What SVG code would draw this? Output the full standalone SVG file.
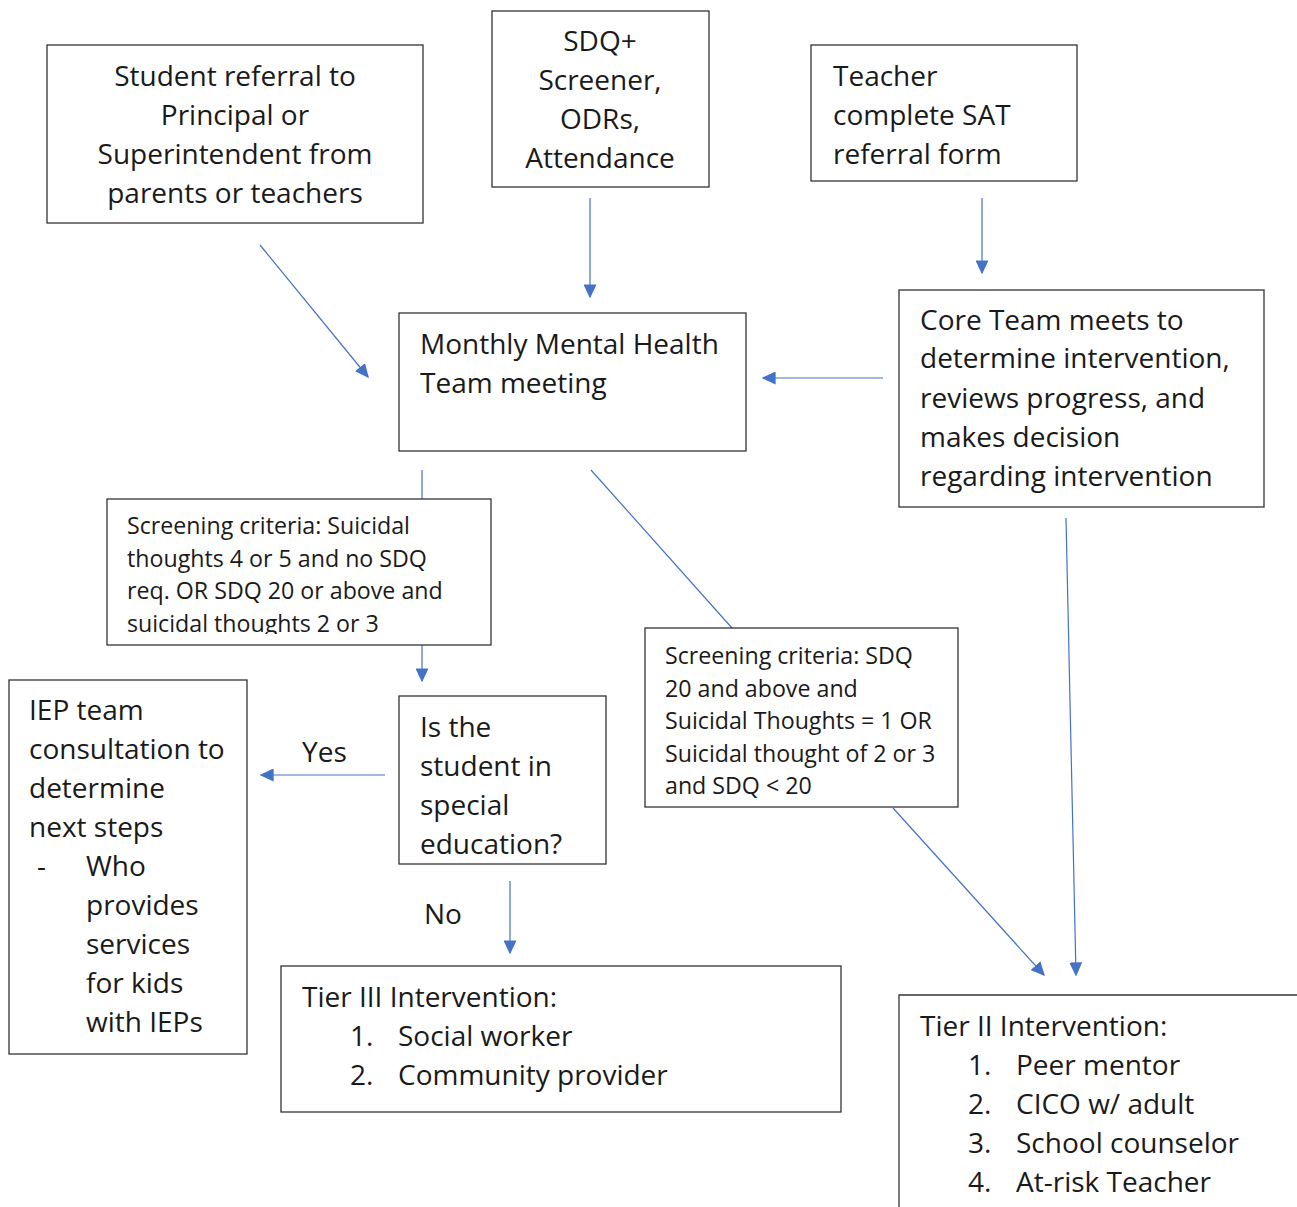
<svg xmlns="http://www.w3.org/2000/svg" width="1297" height="1207" viewBox="0 0 1297 1207">
<style>
.box{fill:#fff;stroke:#333;stroke-width:1.3}
.t{font-family:"Open Sans","Noto Sans",sans-serif;font-size:28px;fill:#1a1a1a}
.s{font-family:"Open Sans","Noto Sans",sans-serif;font-size:23.2px;fill:#1a1a1a}
.c{text-anchor:middle}
.ln{stroke:#4472C4;stroke-width:1.2;fill:none}
.ar{stroke:#4472C4;stroke-width:1.2;fill:none;marker-end:url(#ah)}
</style>
<defs>
<marker id="ah" viewBox="0 0 10 10" refX="9" refY="5" markerWidth="14" markerHeight="13" markerUnits="userSpaceOnUse" orient="auto" preserveAspectRatio="none">
<path d="M0,0 L10,5 L0,10 z" fill="#4472C4"/>
</marker>
<clipPath id="clip6"><rect x="107" y="499" width="384" height="135"/></clipPath>
</defs>
<rect width="1297" height="1207" fill="#fff"/>
<g id="connectors">
<line class="ar" x1="260" y1="245" x2="368" y2="377"/>
<line class="ar" x1="590" y1="198" x2="590" y2="297"/>
<line class="ar" x1="982" y1="198" x2="982" y2="273"/>
<line class="ar" x1="883" y1="378" x2="763" y2="378"/>
<line class="ln" x1="422" y1="470" x2="422" y2="499"/>
<line class="ar" x1="422" y1="645" x2="422" y2="681"/>
<line class="ln" x1="591" y1="470" x2="732" y2="628"/>
<line class="ar" x1="893" y1="808" x2="1044" y2="975"/>
<line class="ar" x1="1066" y1="518" x2="1076" y2="975"/>
<line class="ar" x1="385" y1="775" x2="261" y2="775"/>
<line class="ar" x1="510" y1="881" x2="510" y2="953"/>
<text class="t" x="302" y="762">Yes</text>
<text class="t" x="424" y="924">No</text>
</g>
<g id="student-referral">
<rect class="box" x="47" y="45" width="376" height="178"/>
<text class="t c" x="235" y="86">Student referral to</text>
<text class="t c" x="235" y="125">Principal or</text>
<text class="t c" x="235" y="164">Superintendent from</text>
<text class="t c" x="235" y="203">parents or teachers</text>
</g>
<g id="sdq">
<rect class="box" x="492" y="11" width="217" height="176"/>
<text class="t c" x="600" y="51">SDQ+</text>
<text class="t c" x="600" y="90">Screener,</text>
<text class="t c" x="600" y="129">ODRs,</text>
<text class="t c" x="600" y="168">Attendance</text>
</g>
<g id="teacher">
<rect class="box" x="811" y="45" width="266" height="136"/>
<text class="t" x="833" y="86">Teacher</text>
<text class="t" x="833" y="125">complete SAT</text>
<text class="t" x="833" y="164">referral form</text>
</g>
<g id="core-team">
<rect class="box" x="899" y="290" width="365" height="217"/>
<text class="t" x="920" y="330">Core Team meets to</text>
<text class="t" x="920" y="368">determine intervention,</text>
<text class="t" x="920" y="408">reviews progress, and</text>
<text class="t" x="920" y="447">makes decision</text>
<text class="t" x="920" y="486">regarding intervention</text>
</g>
<g id="monthly">
<rect class="box" x="399" y="313" width="347" height="138"/>
<text class="t" x="420" y="354">Monthly Mental Health</text>
<text class="t" x="420" y="393">Team meeting</text>
</g>
<g id="screening-tier3">
<rect class="box" x="107" y="499" width="384" height="146"/>
<g clip-path="url(#clip6)">
<text class="s" x="127" y="534">Screening criteria: Suicidal</text>
<text class="s" x="127" y="567">thoughts 4 or 5 and no SDQ</text>
<text class="s" x="127" y="599">req. OR SDQ 20 or above and</text>
<text class="s" x="127" y="632">suicidal thoughts 2 or 3</text>
</g>
</g>
<g id="special-ed">
<rect class="box" x="399" y="696" width="207" height="168"/>
<text class="t" x="420" y="737">Is the</text>
<text class="t" x="420" y="776">student in</text>
<text class="t" x="420" y="815">special</text>
<text class="t" x="420" y="854">education?</text>
</g>
<g id="iep">
<rect class="box" x="9" y="680" width="238" height="374"/>
<text class="t" x="29" y="720">IEP team</text>
<text class="t" x="29" y="759">consultation to</text>
<text class="t" x="29" y="798">determine</text>
<text class="t" x="29" y="837">next steps</text>
<text class="t" x="37" y="876">-</text>
<text class="t" x="86" y="876">Who</text>
<text class="t" x="86" y="915">provides</text>
<text class="t" x="86" y="954">services</text>
<text class="t" x="86" y="993">for kids</text>
<text class="t" x="86" y="1032">with IEPs</text>
</g>
<g id="screening-tier2">
<rect class="box" x="645" y="628" width="313" height="179"/>
<text class="s" x="665" y="664">Screening criteria: SDQ</text>
<text class="s" x="665" y="697">20 and above and</text>
<text class="s" x="665" y="729">Suicidal Thoughts = 1 OR</text>
<text class="s" x="665" y="762">Suicidal thought of 2 or 3</text>
<text class="s" x="665" y="794">and SDQ &lt; 20</text>
</g>
<g id="tier3">
<rect class="box" x="281" y="966" width="560" height="146"/>
<text class="t" x="302" y="1007">Tier III Intervention:</text>
<text class="t" x="350" y="1046">1.</text>
<text class="t" x="398" y="1046">Social worker</text>
<text class="t" x="350" y="1085">2.</text>
<text class="t" x="398" y="1085">Community provider</text>
</g>
<g id="tier2">
<path class="box" d="M899,1207 V995 H1297"/>
<text class="t" x="920" y="1036">Tier II Intervention:</text>
<text class="t" x="968" y="1075">1.</text>
<text class="t" x="1016" y="1075">Peer mentor</text>
<text class="t" x="968" y="1114">2.</text>
<text class="t" x="1016" y="1114">CICO w/ adult</text>
<text class="t" x="968" y="1153">3.</text>
<text class="t" x="1016" y="1153">School counselor</text>
<text class="t" x="968" y="1192">4.</text>
<text class="t" x="1016" y="1192">At-risk Teacher</text>
</g>
</svg>
